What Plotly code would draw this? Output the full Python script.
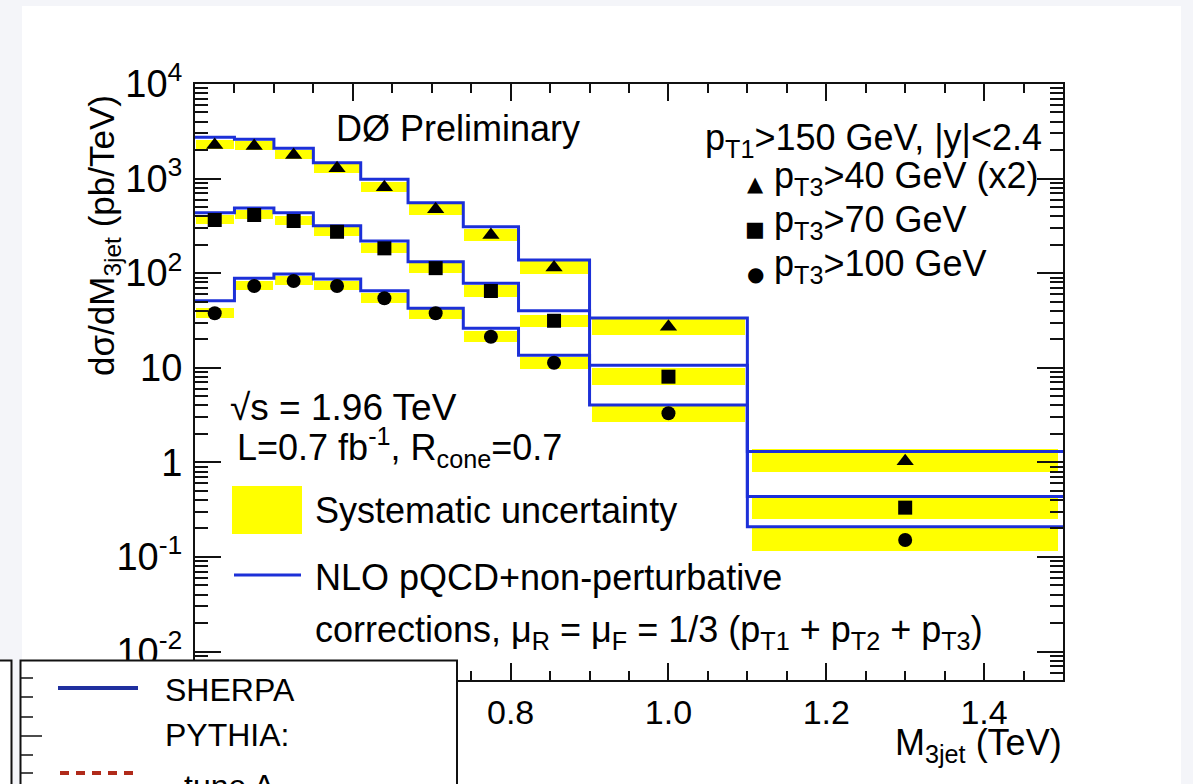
import numpy as np
import plotly.graph_objects as go

# ---------------- data ----------------
bin_edges = [0.40, 0.45, 0.50, 0.55, 0.61, 0.67, 0.74, 0.81, 0.90, 1.10, 1.50]

# measured cross sections (pb/TeV)
data_pt40_x2 = [2265, 2210, 1776, 1285, 809, 474, 253, 115, 27.2, 1.03]
data_pt70 = [365, 412, 356, 274, 183, 113, 64.8, 31.4, 8.05, 0.332]
data_pt100 = [37.7, 73.2, 82.7, 73.2, 54.3, 37.7, 21.3, 11.3, 3.30, 0.151]

# NLO pQCD + non-perturbative corrections
nlo_pt40_x2 = [2733, 2603, 2091, 1472, 983, 556, 310, 138, 33.6, 1.30]
nlo_pt70 = [436, 489, 436, 318, 219, 132, 78.2, 40.1, 10.6, 0.436]
nlo_pt100 = [51.2, 88.3, 98.0, 86.8, 65.3, 42.5, 26.1, 13.6, 4.04, 0.209]

# systematic uncertainty (relative, %)
sys_up = [13, 13, 13, 13, 13, 14, 15, 16, 23, 33]
sys_dn = [10, 10, 10, 10, 11, 12, 13, 14, 19, 24]

# 0.4 and 0.6 labels are hidden behind the overlapping panel in the picture
x_ticks = [0.4, 0.6, 0.8, 1.0, 1.2, 1.4]
x_ticktext = ["", "", "0.8", "1.0", "1.2", "1.4"]
y_ticks = [0.01, 0.1, 1, 10, 100, 1000, 10000]
y_ticktext = ["10<sup>-2</sup>", "10<sup>-1</sup>", "1", "10",
              "10<sup>2</sup>", "10<sup>3</sup>", "10<sup>4</sup>"]

# ---------------- geometry helpers ----------------
W, H = 1193, 784
L, R, T, B = 195, 1063, 84, 680
PW, PH = R - L, B - T


def px(x):
    return (x - L) / PW


def py(y):
    return (B - y) / PH


FONT = "Liberation Sans, Arial, Helvetica, sans-serif"
YELLOW = "#ffff00"
BLUE = "#1c30d8"

edges = np.array(bin_edges)
centers = 0.5 * (edges[:-1] + edges[1:])
widths = edges[1:] - edges[:-1]

fig = go.Figure()

# yellow systematic bands
for vals in (data_pt40_x2, data_pt70, data_pt100):
    v = np.array(vals)
    lo = v * (1 - np.array(sys_dn) / 100.0)
    hi = v * (1 + np.array(sys_up) / 100.0)
    fig.add_trace(go.Bar(x=centers, y=hi - lo, base=lo, width=widths * 0.97,
                         marker=dict(color=YELLOW, line=dict(width=0)),
                         showlegend=False, hoverinfo="skip"))

# blue NLO step histograms
for vals in (nlo_pt40_x2, nlo_pt70, nlo_pt100):
    fig.add_trace(go.Scatter(x=edges, y=list(vals) + [vals[-1]], mode="lines",
                             line=dict(color=BLUE, width=3, shape="hv"),
                             showlegend=False, hoverinfo="skip"))

# data markers
for vals, sym, sz in ((data_pt40_x2, "triangle-up", 15),
                      (data_pt70, "square", 14),
                      (data_pt100, "circle", 14)):
    fig.add_trace(go.Scatter(x=centers, y=vals, mode="markers",
                             marker=dict(symbol=sym, size=sz, color="black",
                                         line=dict(width=0)),
                             showlegend=False))

minor_y = [m * 10.0 ** k for k in range(-3, 4) for m in range(2, 10)]
minor_y = [v for v in minor_y if 0.005 <= v <= 10000]

shapes = []
annotations = []

# white panel on light-grey page
shapes.append(dict(type="rect", xref="paper", yref="paper", layer="below",
                   x0=px(22), x1=px(1181), y0=py(6), y1=py(800),
                   fillcolor="white", line=dict(width=0)))


def text(x, y, s, size=36, xanchor="left", yanchor="middle", family=FONT):
    annotations.append(dict(x=px(x), y=py(y), xref="paper", yref="paper",
                            text=s, showarrow=False, xanchor=xanchor,
                            yanchor=yanchor,
                            font=dict(family=family, size=size, color="black")))


text(458, 128, "DØ Preliminary", xanchor="center")
text(1044, 140, "p<sub>T1</sub>&gt;150 GeV, |y|&lt;2.4", xanchor="right")
text(772, 178, "p<sub>T3</sub>&gt;40 GeV (x2)")
text(772, 222, "p<sub>T3</sub>&gt;70 GeV")
text(772, 266, "p<sub>T3</sub>&gt;100 GeV")
text(755, 184, "▲", size=21, xanchor="center", family="DejaVu Sans")
text(755, 229, "■", size=21, xanchor="center", family="DejaVu Sans")
text(755, 274, "●", size=20, xanchor="center", family="DejaVu Sans")

text(228, 407, "√s = 1.96 TeV", size=37)
text(235, 447, "L=0.7 fb<sup>-1</sup>, R<sub>cone</sub>=0.7")
shapes.append(dict(type="rect", xref="paper", yref="paper",
                   x0=px(232), x1=px(302), y0=py(534), y1=py(486),
                   fillcolor=YELLOW, line=dict(width=0)))
text(313, 510, "Systematic uncertainty")
shapes.append(dict(type="line", xref="paper", yref="paper",
                   x0=px(234), x1=px(301), y0=py(575), y1=py(575),
                   line=dict(color=BLUE, width=3)))
text(313, 577, "NLO pQCD+non-perturbative")
text(313, 632, "corrections, μ<sub>R</sub> = μ<sub>F</sub> = 1/3 (p<sub>T1</sub> + "
               "p<sub>T2</sub> + p<sub>T3</sub>)")

text(1064, 745, "M<sub>3jet</sub> (TeV)", xanchor="right")

# y-axis title (rotated, aligned toward the top like ROOT)
annotations.append(dict(x=px(104), y=py(236), xref="paper", yref="paper",
                        text="dσ/dM<sub>3jet</sub> (pb/TeV)", showarrow=False,
                        textangle=-90, xanchor="center", yanchor="middle",
                        font=dict(family=FONT, size=35, color="black")))

# ---- overlapping panel at bottom-left (part of another figure) ----
shapes.append(dict(type="rect", xref="paper", yref="paper", layer="above",
                   x0=px(-20), x1=px(11.5), y0=py(810), y1=py(660.5),
                   fillcolor="white", line=dict(color="#111", width=2)))
shapes.append(dict(type="rect", xref="paper", yref="paper", layer="above",
                   x0=px(20.5), x1=px(457), y0=py(810), y1=py(660.5),
                   fillcolor="white", line=dict(color="#111", width=2)))
for yy, ln in ((678, 12), (697, 12), (717, 12), (736, 21), (755, 12), (773, 12)):
    shapes.append(dict(type="line", xref="paper", yref="paper", layer="above",
                       x0=px(21), x1=px(21 + ln), y0=py(yy), y1=py(yy),
                       line=dict(color="#111", width=1.5)))
shapes.append(dict(type="line", xref="paper", yref="paper", layer="above",
                   x0=px(58), x1=px(138), y0=py(688), y1=py(688),
                   line=dict(color="#1f2f9f", width=4)))
shapes.append(dict(type="line", xref="paper", yref="paper", layer="above",
                   x0=px(60), x1=px(139), y0=py(773), y1=py(773),
                   line=dict(color="#b02a1a", width=4, dash="9px,7px")))
text(163, 690, "SHERPA", size=32)
text(163, 735, "PYTHIA:", size=32)
text(182, 786, "tune A", size=32)

fig.update_layout(
    width=W, height=H,
    margin=dict(l=L, r=W - R, t=T, b=H - B, pad=0),
    paper_bgcolor="#f4f5f9", plot_bgcolor="white",
    barmode="overlay", bargap=0, showlegend=False,
    font=dict(family=FONT, size=34, color="black"),
    shapes=shapes, annotations=annotations,
    xaxis=dict(range=[0.4, 1.5], tickmode="array", tickvals=x_ticks,
               ticktext=x_ticktext, ticks="inside", ticklen=17, tickwidth=2,
               tickcolor="#111", showline=True, linecolor="#111", linewidth=2,
               mirror="ticks", showgrid=False, zeroline=False,
               ticklabelstandoff=1,
               tickfont=dict(family=FONT, size=34, color="black"),
               minor=dict(dtick=0.05, tick0=0.4, ticks="inside", ticklen=9,
                          tickwidth=1.5, tickcolor="#111", showgrid=False)),
    yaxis=dict(type="log", range=[np.log10(0.005), 4], tickmode="array",
               tickvals=y_ticks, ticktext=y_ticktext, ticks="inside",
               ticklen=26, tickwidth=2, tickcolor="#111", showline=True,
               linecolor="#111", linewidth=2, mirror="ticks", showgrid=False,
               zeroline=False, ticklabelstandoff=3,
               tickfont=dict(family=FONT, size=38, color="black"),
               minor=dict(tickmode="array", tickvals=minor_y, ticks="inside",
                          ticklen=13, tickwidth=1.5, tickcolor="#111",
                          showgrid=False)),
)

fig.write_html("out.html")
